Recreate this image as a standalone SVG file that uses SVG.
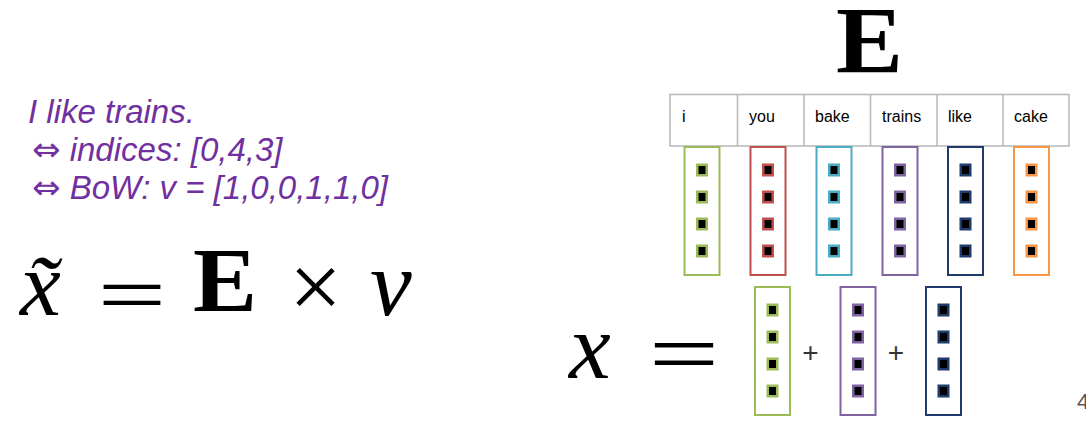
<svg xmlns="http://www.w3.org/2000/svg" width="1086" height="428" viewBox="0 0 1086 428">
<style>
.bg{fill:#fff}
.purp{font-family:"Liberation Sans",Arial,"DejaVu Sans",sans-serif;font-style:italic;font-size:33px;fill:#7030a0}
.arr{font-family:"DejaVu Sans",sans-serif;font-style:normal;font-size:34px}
.math{font-family:"Liberation Serif","Times New Roman",serif;fill:#000}
.eq{font-family:"DejaVu Sans",sans-serif;font-weight:200;fill:#000}
.mi{font-style:italic}
.mb{font-weight:bold}
.cell{fill:#fff;stroke:#b7b7b7;stroke-width:1.5}
.hdr{font-family:"Liberation Sans",Arial,sans-serif;font-size:16px;fill:#000}
.box{fill:#fff;stroke-width:2}
.sq{fill:#000;stroke-width:2.5}
.c1{stroke:#9bbb59}.c2{stroke:#c0504d}.c3{stroke:#4bacc6}.c4{stroke:#8064a2}.c5{stroke:#1f3b6b}.c6{stroke:#f79646}
.plus{font-family:"Liberation Sans",Arial,sans-serif;font-size:28px;fill:#333;text-anchor:middle}
.pg{font-family:"Liberation Sans",Arial,sans-serif;font-size:22px;fill:#555}
</style>
<defs>
<g id="vec">
<rect class="box" x="-17.5" y="0" width="35" height="128"/>
<rect class="sq" x="-4.75" y="17.75" width="9.5" height="10.5"/>
<rect class="sq" x="-4.75" y="44.75" width="9.5" height="10.5"/>
<rect class="sq" x="-4.75" y="71.75" width="9.5" height="10.5"/>
<rect class="sq" x="-4.75" y="98.75" width="9.5" height="10.5"/>
</g>
</defs>
<rect class="bg" x="0" y="0" width="1086" height="428"/>

<g id="sentence">
<text class="purp" x="28" y="123">I like trains.</text>
<text class="purp" x="32" y="161"><tspan class="arr">⇔</tspan> indices: [0,4,3]</text>
<text class="purp" x="32" y="199"><tspan class="arr">⇔</tspan> BoW: v = [1,0,0,1,1,0]</text>
</g>

<g id="formula-bow">
<text class="math mi" x="20" y="315" font-size="92">x̃</text>
<text class="eq" x="94" y="327" font-size="104" textLength="76" lengthAdjust="spacingAndGlyphs">=</text>
<text class="math mb" x="193" y="311" font-size="90" textLength="64" lengthAdjust="spacingAndGlyphs">E</text>
<text class="math" x="289" y="318" font-size="94">×</text>
<text class="math mi" x="370" y="315" font-size="94">v</text>
</g>

<g id="E-label">
<text class="math mb" x="836" y="73" font-size="95" textLength="67" lengthAdjust="spacingAndGlyphs">E</text>
</g>

<g id="vocab-table">
<rect class="cell" x="670" y="94.5" width="399" height="51.5"/>
<line class="cell" x1="737.5" y1="94.5" x2="737.5" y2="146"/>
<line class="cell" x1="804" y1="94.5" x2="804" y2="146"/>
<line class="cell" x1="870.5" y1="94.5" x2="870.5" y2="146"/>
<line class="cell" x1="937" y1="94.5" x2="937" y2="146"/>
<line class="cell" x1="1003" y1="94.5" x2="1003" y2="146"/>
<text class="hdr" x="682" y="122">i</text>
<text class="hdr" x="749" y="122">you</text>
<text class="hdr" x="815" y="122">bake</text>
<text class="hdr" x="882" y="122">trains</text>
<text class="hdr" x="948" y="122">like</text>
<text class="hdr" x="1014" y="122">cake</text>
</g>

<g id="emb-i" class="c1"><use href="#vec" x="702" y="147"/></g>
<g id="emb-you" class="c2"><use href="#vec" x="768" y="147"/></g>
<g id="emb-bake" class="c3"><use href="#vec" x="834" y="147"/></g>
<g id="emb-trains" class="c4"><use href="#vec" x="900" y="147"/></g>
<g id="emb-like" class="c5"><use href="#vec" x="965.5" y="147"/></g>
<g id="emb-cake" class="c6"><use href="#vec" x="1031.5" y="147"/></g>

<g id="formula-sum">
<text class="math mi" x="569" y="378" font-size="94">x</text>
<text class="eq" x="645" y="389" font-size="110" textLength="78" lengthAdjust="spacingAndGlyphs">=</text>
</g>
<g id="sum-i" class="c1"><use href="#vec" x="772.5" y="287"/></g>
<text class="plus" x="810.5" y="362">+</text>
<g id="sum-trains" class="c4"><use href="#vec" x="858" y="287"/></g>
<text class="plus" x="896" y="362">+</text>
<g id="sum-like" class="c5"><use href="#vec" x="943.5" y="287"/></g>

<g id="connectors"/>
<text class="pg" x="1077" y="409">4</text>
</svg>
